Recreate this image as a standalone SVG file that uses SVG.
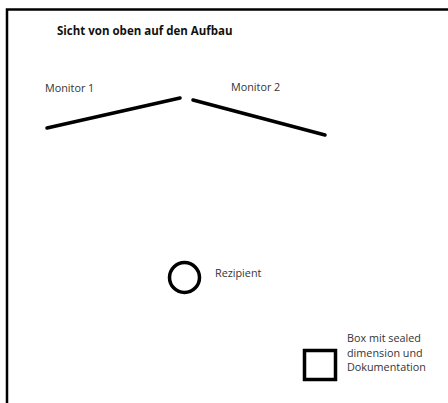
<svg xmlns="http://www.w3.org/2000/svg" width="448" height="403" viewBox="0 0 448 403">
<style>
text{font-family:"Open Sans","Liberation Sans",sans-serif;fill:#333;font-size:10.8px}
.t{font-weight:bold;fill:#111;font-size:11.5px}
.s{fill:none;stroke:#000;stroke-linecap:round}
</style>
<rect width="448" height="403" fill="#fff"/>
<path d="M7,403 V9.5 H448" fill="none" stroke="#000" stroke-width="2.5"/>
<text class="t" x="57" y="35">Sicht von oben auf den Aufbau</text>
<g id="monitor1">
<line class="s" x1="47" y1="128" x2="180" y2="98" stroke-width="3.5"/>
<text x="45" y="92">Monitor 1</text>
</g>
<g id="monitor2">
<line class="s" x1="193" y1="100" x2="325" y2="135" stroke-width="3.5"/>
<text x="231" y="91">Monitor 2</text>
</g>
<g id="rezipient">
<circle class="s" cx="184.5" cy="277.5" r="15" stroke-width="3.5"/>
<text x="215" y="277">Rezipient</text>
</g>
<g id="box">
<rect class="s" x="304.5" y="350.5" width="31" height="29" stroke-width="3.5" stroke-linecap="butt"/>
<text x="347" y="342">Box mit sealed</text>
<text x="347" y="356.5">dimension und</text>
<text x="347" y="371">Dokumentation</text>
</g>
<g id="connectors"/>
</svg>
